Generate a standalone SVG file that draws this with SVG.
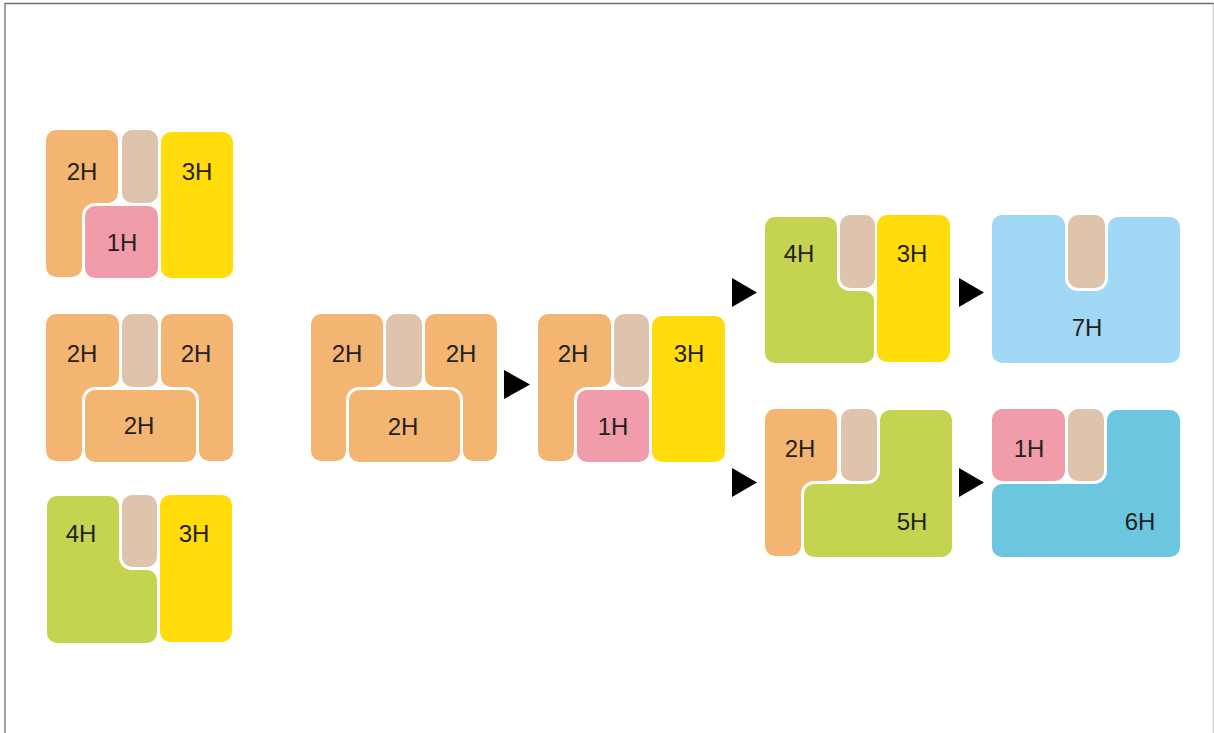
<svg xmlns="http://www.w3.org/2000/svg" width="1214" height="733" viewBox="0 0 1214 733">
<style>
.or{fill:#f4b572}.tn{fill:#dec4ad}.pk{fill:#f09cab}.ye{fill:#ffdc0a}.gr{fill:#c4d451}.lb{fill:#a1d8f5}.bl{fill:#6cc6df}
text{font-family:"Liberation Sans",Arial,sans-serif;font-size:24px;fill:#231f20;text-anchor:middle}
.arr{fill:#000}
</style>
<rect x="0" y="0" width="1214" height="733" fill="#fff"/>
<path d="M5,733 V3.5 H1214" fill="none" stroke="#6d6d6d" stroke-width="1.3"/>
<path d="M1213.3,3.5 V733" fill="none" stroke="#c8c8c8" stroke-width="1"/>

<g id="groupA">
<path class="or" d="M56,130 H108 A10,10 0 0 1 118,140 V193 A10,10 0 0 1 108,203 H95 A13,13 0 0 0 82,216 V267 A10,10 0 0 1 72,277 H56 A10,10 0 0 1 46,267 V140 A10,10 0 0 1 56,130 Z"/>
<rect class="tn" x="122" y="130" width="36" height="73" rx="10"/>
<rect class="pk" x="85" y="206" width="73" height="72" rx="10"/>
<rect class="ye" x="161" y="132" width="72" height="146" rx="10"/>
<text x="82" y="180">2H</text><text x="122" y="251">1H</text><text x="197" y="180">3H</text>
</g>

<g id="groupB">
<path class="or" d="M56,314 H109 A10,10 0 0 1 119,324 V377 A10,10 0 0 1 109,387 H95 A13,13 0 0 0 82,400 V451 A10,10 0 0 1 72,461 H56 A10,10 0 0 1 46,451 V324 A10,10 0 0 1 56,314 Z"/>
<rect class="tn" x="122" y="314" width="36" height="73" rx="10"/>
<path class="or" d="M171,314 H223 A10,10 0 0 1 233,324 V451 A10,10 0 0 1 223,461 H209 A10,10 0 0 1 199,451 V400 A13,13 0 0 0 186,387 H171 A10,10 0 0 1 161,377 V324 A10,10 0 0 1 171,314 Z"/>
<rect class="or" x="85" y="390" width="111" height="72" rx="10"/>
<text x="82" y="362">2H</text><text x="196" y="362">2H</text><text x="139" y="434">2H</text>
</g>

<g id="groupC">
<path class="gr" d="M57,496 H109 A10,10 0 0 1 119,506 V557 A13,13 0 0 0 132,570 H147 A10,10 0 0 1 157,580 V633 A10,10 0 0 1 147,643 H57 A10,10 0 0 1 47,633 V506 A10,10 0 0 1 57,496 Z"/>
<rect class="tn" x="122" y="495" width="35" height="72" rx="10"/>
<rect class="ye" x="160" y="495" width="72" height="147" rx="10"/>
<text x="81" y="542">4H</text><text x="194" y="542">3H</text>
</g>

<g id="groupD">
<path class="or" d="M321,314 H373 A10,10 0 0 1 383,324 V377 A10,10 0 0 1 373,387 H359 A13,13 0 0 0 346,400 V451 A10,10 0 0 1 336,461 H321 A10,10 0 0 1 311,451 V324 A10,10 0 0 1 321,314 Z"/>
<rect class="tn" x="386" y="314" width="36" height="73" rx="10"/>
<path class="or" d="M435,314 H487 A10,10 0 0 1 497,324 V451 A10,10 0 0 1 487,461 H473 A10,10 0 0 1 463,451 V400 A13,13 0 0 0 450,387 H435 A10,10 0 0 1 425,377 V324 A10,10 0 0 1 435,314 Z"/>
<rect class="or" x="349" y="390" width="111" height="72" rx="10"/>
<text x="347" y="362">2H</text><text x="461" y="362">2H</text><text x="403" y="435">2H</text>
</g>

<g id="groupE">
<path class="or" d="M548,314 H601 A10,10 0 0 1 611,324 V377 A10,10 0 0 1 601,387 H587 A13,13 0 0 0 574,400 V451 A10,10 0 0 1 564,461 H548 A10,10 0 0 1 538,451 V324 A10,10 0 0 1 548,314 Z"/>
<rect class="tn" x="614" y="314" width="35" height="73" rx="10"/>
<rect class="pk" x="577" y="390" width="72" height="72" rx="10"/>
<rect class="ye" x="652" y="316" width="73" height="146" rx="10"/>
<text x="573" y="362">2H</text><text x="613" y="435">1H</text><text x="689" y="362">3H</text>
</g>

<g id="groupF">
<path class="gr" d="M775,217 H827 A10,10 0 0 1 837,227 V278 A13,13 0 0 0 850,291 H864 A10,10 0 0 1 874,301 V353 A10,10 0 0 1 864,363 H775 A10,10 0 0 1 765,353 V227 A10,10 0 0 1 775,217 Z"/>
<rect class="tn" x="840" y="215" width="35" height="73" rx="10"/>
<rect class="ye" x="877" y="215" width="73" height="147" rx="10"/>
<text x="799" y="262">4H</text><text x="912" y="262">3H</text>
</g>

<g id="groupH">
<path class="lb" d="M1002,215 H1055 A10,10 0 0 1 1065,225 V278 A13,13 0 0 0 1078,291 H1095 A13,13 0 0 0 1108,278 V227 A10,10 0 0 1 1118,217 H1170 A10,10 0 0 1 1180,227 V353 A10,10 0 0 1 1170,363 H1002 A10,10 0 0 1 992,353 V225 A10,10 0 0 1 1002,215 Z"/>
<rect class="tn" x="1068" y="215" width="37" height="73" rx="10"/>
<text x="1087" y="336">7H</text>
</g>

<g id="groupG">
<path class="or" d="M775,409 H827 A10,10 0 0 1 837,419 V471 A10,10 0 0 1 827,481 H814 A13,13 0 0 0 801,494 V546 A10,10 0 0 1 791,556 H775 A10,10 0 0 1 765,546 V419 A10,10 0 0 1 775,409 Z"/>
<rect class="tn" x="841" y="409" width="36" height="72" rx="10"/>
<path class="gr" d="M814,484 H867 A13,13 0 0 0 880,471 V420 A10,10 0 0 1 890,410 H942 A10,10 0 0 1 952,420 V547 A10,10 0 0 1 942,557 H814 A10,10 0 0 1 804,547 V494 A10,10 0 0 1 814,484 Z"/>
<text x="800" y="457">2H</text><text x="912" y="530">5H</text>
</g>

<g id="groupI">
<rect class="pk" x="992" y="409" width="73" height="72" rx="10"/>
<rect class="tn" x="1068" y="409" width="36" height="72" rx="10"/>
<path class="bl" d="M1002,484 H1094 A13,13 0 0 0 1107,471 V420 A10,10 0 0 1 1117,410 H1170 A10,10 0 0 1 1180,420 V547 A10,10 0 0 1 1170,557 H1002 A10,10 0 0 1 992,547 V494 A10,10 0 0 1 1002,484 Z"/>
<text x="1029" y="457">1H</text><text x="1140" y="530">6H</text>
</g>

<g id="connectors">
<polygon class="arr" points="504,370 530,384.5 504,399"/>
<polygon class="arr" points="732,278 757,292.5 732,307"/>
<polygon class="arr" points="959,278 984,292.5 959,307"/>
<polygon class="arr" points="732,468 757,482.5 732,497"/>
<polygon class="arr" points="959,468 984,482.5 959,497"/>
</g>
</svg>
